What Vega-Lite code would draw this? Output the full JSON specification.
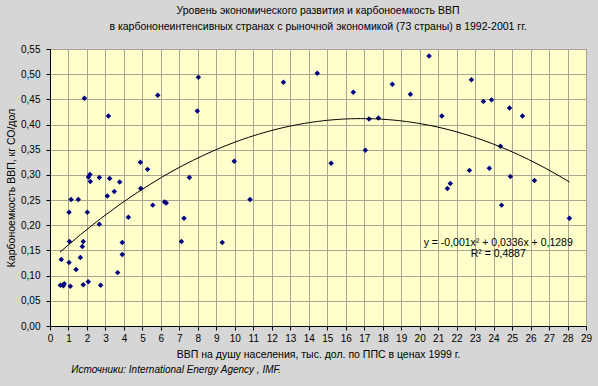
{
  "$schema": "https://vega.github.io/schema/vega-lite/v6.json",
  "width": 536,
  "height": 277,
  "autosize": "none",
  "padding": {"left": 50, "top": 49, "right": 12, "bottom": 60},
  "background": "#d6d6d6",
  "config": {
    "font": "Liberation Sans",
    "view": {"fill": "#ffffcc", "stroke": "#808080"},
    "axis": {"gridColor": "#a8a594", "gridOpacity": 1, "domainColor": "#000000", "tickColor": "#000000", "labelColor": "#000000", "titleColor": "#000000", "labelFontSize": 10, "titleFontSize": 10.5, "titleFontWeight": "normal", "tickSize": 4}
  },
  "title": {
    "text": ["Уровень экономического развития и карбоноемкость ВВП", "в карбононеинтенсивных странах с рыночной экономикой (73 страны) в 1992-2001 гг."],
    "fontSize": 10.5,
    "fontWeight": "normal",
    "color": "#000000",
    "anchor": "middle",
    "lineHeight": 16,
    "offset": 12
  },
  "data": {
    "values": [
      {"gdp": 1.86, "co2": 0.452}, {"gdp": 3.16, "co2": 0.417}, {"gdp": 5.83, "co2": 0.458},
      {"gdp": 4.89, "co2": 0.325}, {"gdp": 5.28, "co2": 0.311}, {"gdp": 2.16, "co2": 0.301},
      {"gdp": 2.08, "co2": 0.296}, {"gdp": 2.18, "co2": 0.287}, {"gdp": 2.67, "co2": 0.295},
      {"gdp": 3.23, "co2": 0.293}, {"gdp": 3.77, "co2": 0.286}, {"gdp": 4.91, "co2": 0.273},
      {"gdp": 1.14, "co2": 0.251}, {"gdp": 1.53, "co2": 0.251}, {"gdp": 1.03, "co2": 0.226},
      {"gdp": 2.02, "co2": 0.226}, {"gdp": 3.10, "co2": 0.258}, {"gdp": 3.48, "co2": 0.267},
      {"gdp": 5.56, "co2": 0.240}, {"gdp": 4.24, "co2": 0.216}, {"gdp": 2.67, "co2": 0.202},
      {"gdp": 1.05, "co2": 0.168}, {"gdp": 1.80, "co2": 0.168}, {"gdp": 1.75, "co2": 0.158},
      {"gdp": 3.91, "co2": 0.166}, {"gdp": 3.91, "co2": 0.142}, {"gdp": 0.61, "co2": 0.132},
      {"gdp": 1.03, "co2": 0.126}, {"gdp": 1.64, "co2": 0.136}, {"gdp": 1.41, "co2": 0.112},
      {"gdp": 3.66, "co2": 0.106}, {"gdp": 0.56, "co2": 0.081}, {"gdp": 0.72, "co2": 0.080},
      {"gdp": 0.77, "co2": 0.084}, {"gdp": 1.10, "co2": 0.079}, {"gdp": 1.80, "co2": 0.082},
      {"gdp": 2.07, "co2": 0.088}, {"gdp": 2.74, "co2": 0.081},
      {"gdp": 8.03, "co2": 0.494}, {"gdp": 7.97, "co2": 0.427}, {"gdp": 9.97, "co2": 0.327},
      {"gdp": 7.54, "co2": 0.295}, {"gdp": 6.20, "co2": 0.246}, {"gdp": 6.29, "co2": 0.244},
      {"gdp": 7.25, "co2": 0.214}, {"gdp": 10.82, "co2": 0.251}, {"gdp": 7.11, "co2": 0.168},
      {"gdp": 9.32, "co2": 0.166}, {"gdp": 12.63, "co2": 0.484}, {"gdp": 14.46, "co2": 0.502},
      {"gdp": 15.21, "co2": 0.323}, {"gdp": 16.41, "co2": 0.464}, {"gdp": 17.06, "co2": 0.349},
      {"gdp": 17.26, "co2": 0.411}, {"gdp": 17.77, "co2": 0.413}, {"gdp": 18.52, "co2": 0.480},
      {"gdp": 20.51, "co2": 0.536}, {"gdp": 19.50, "co2": 0.460}, {"gdp": 21.20, "co2": 0.417},
      {"gdp": 22.80, "co2": 0.489}, {"gdp": 23.45, "co2": 0.446}, {"gdp": 23.89, "co2": 0.449},
      {"gdp": 24.86, "co2": 0.433}, {"gdp": 25.56, "co2": 0.417}, {"gdp": 24.37, "co2": 0.357},
      {"gdp": 22.69, "co2": 0.309}, {"gdp": 23.77, "co2": 0.313}, {"gdp": 24.91, "co2": 0.297},
      {"gdp": 26.21, "co2": 0.289}, {"gdp": 21.66, "co2": 0.283}, {"gdp": 21.50, "co2": 0.273},
      {"gdp": 24.43, "co2": 0.240}, {"gdp": 28.10, "co2": 0.214}
    ]
  },
  "encoding": {
    "x": {
      "field": "gdp", "type": "quantitative",
      "scale": {"domain": [0, 29], "nice": false, "zero": false},
      "axis": {"values": [0,1,2,3,4,5,6,7,8,9,10,11,12,13,14,15,16,17,18,19,20,21,22,23,24,25,26,27,28,29], "format": "d", "labelPadding": 3, "titlePadding": 6, "labelFlush": false, "labelOverlap": false, "title": "ВВП на душу населения, тыс. дол. по ППС в ценах 1999 г."}
    },
    "y": {
      "field": "co2", "type": "quantitative",
      "scale": {"domain": [0, 0.55], "nice": false, "zero": true},
      "axis": {"values": [0,0.05,0.1,0.15,0.2,0.25,0.3,0.35,0.4,0.45,0.5,0.55], "labelExpr": "replace(format(datum.value, '.2f'), '.', ',')", "labelPadding": 6, "titlePadding": 4, "labelFlush": false, "labelOverlap": false, "title": "Карбоноемкость ВВП, кг СО/дол"}
    }
  },
  "layer": [
    {
      "mark": {"type": "point", "shape": "diamond", "filled": true, "size": 30, "color": "#000080", "opacity": 1}
    },
    {
      "transform": [{"regression": "co2", "on": "gdp", "method": "poly", "order": 2, "extent": [0.54, 28.1]}],
      "mark": {"type": "line", "color": "#000000", "strokeWidth": 1}
    },
    {
      "transform": [{"filter": "datum.gdp == 28.1"}],
      "mark": {"type": "text", "fontSize": 10.5, "color": "#000000", "align": "center", "baseline": "middle"},
      "encoding": {"x": {"datum": 24.25}, "y": {"datum": 0.164}, "text": {"value": "y = -0,001x² + 0,0336x + 0,1289"}}
    },
    {
      "transform": [{"filter": "datum.gdp == 28.1"}],
      "mark": {"type": "text", "fontSize": 10.5, "color": "#000000", "align": "center", "baseline": "middle"},
      "encoding": {"x": {"datum": 24.25}, "y": {"datum": 0.142}, "text": {"value": "R² = 0,4887"}}
    },
    {
      "transform": [{"filter": "datum.gdp == 28.1"}],
      "mark": {"type": "text", "fontSize": 10, "fontStyle": "italic", "color": "#000000", "align": "left", "baseline": "middle"},
      "encoding": {"x": {"datum": 1.15}, "y": {"datum": -0.088}, "text": {"value": "Источники:  International Energy Agency , IMF."}}
    }
  ]
}
